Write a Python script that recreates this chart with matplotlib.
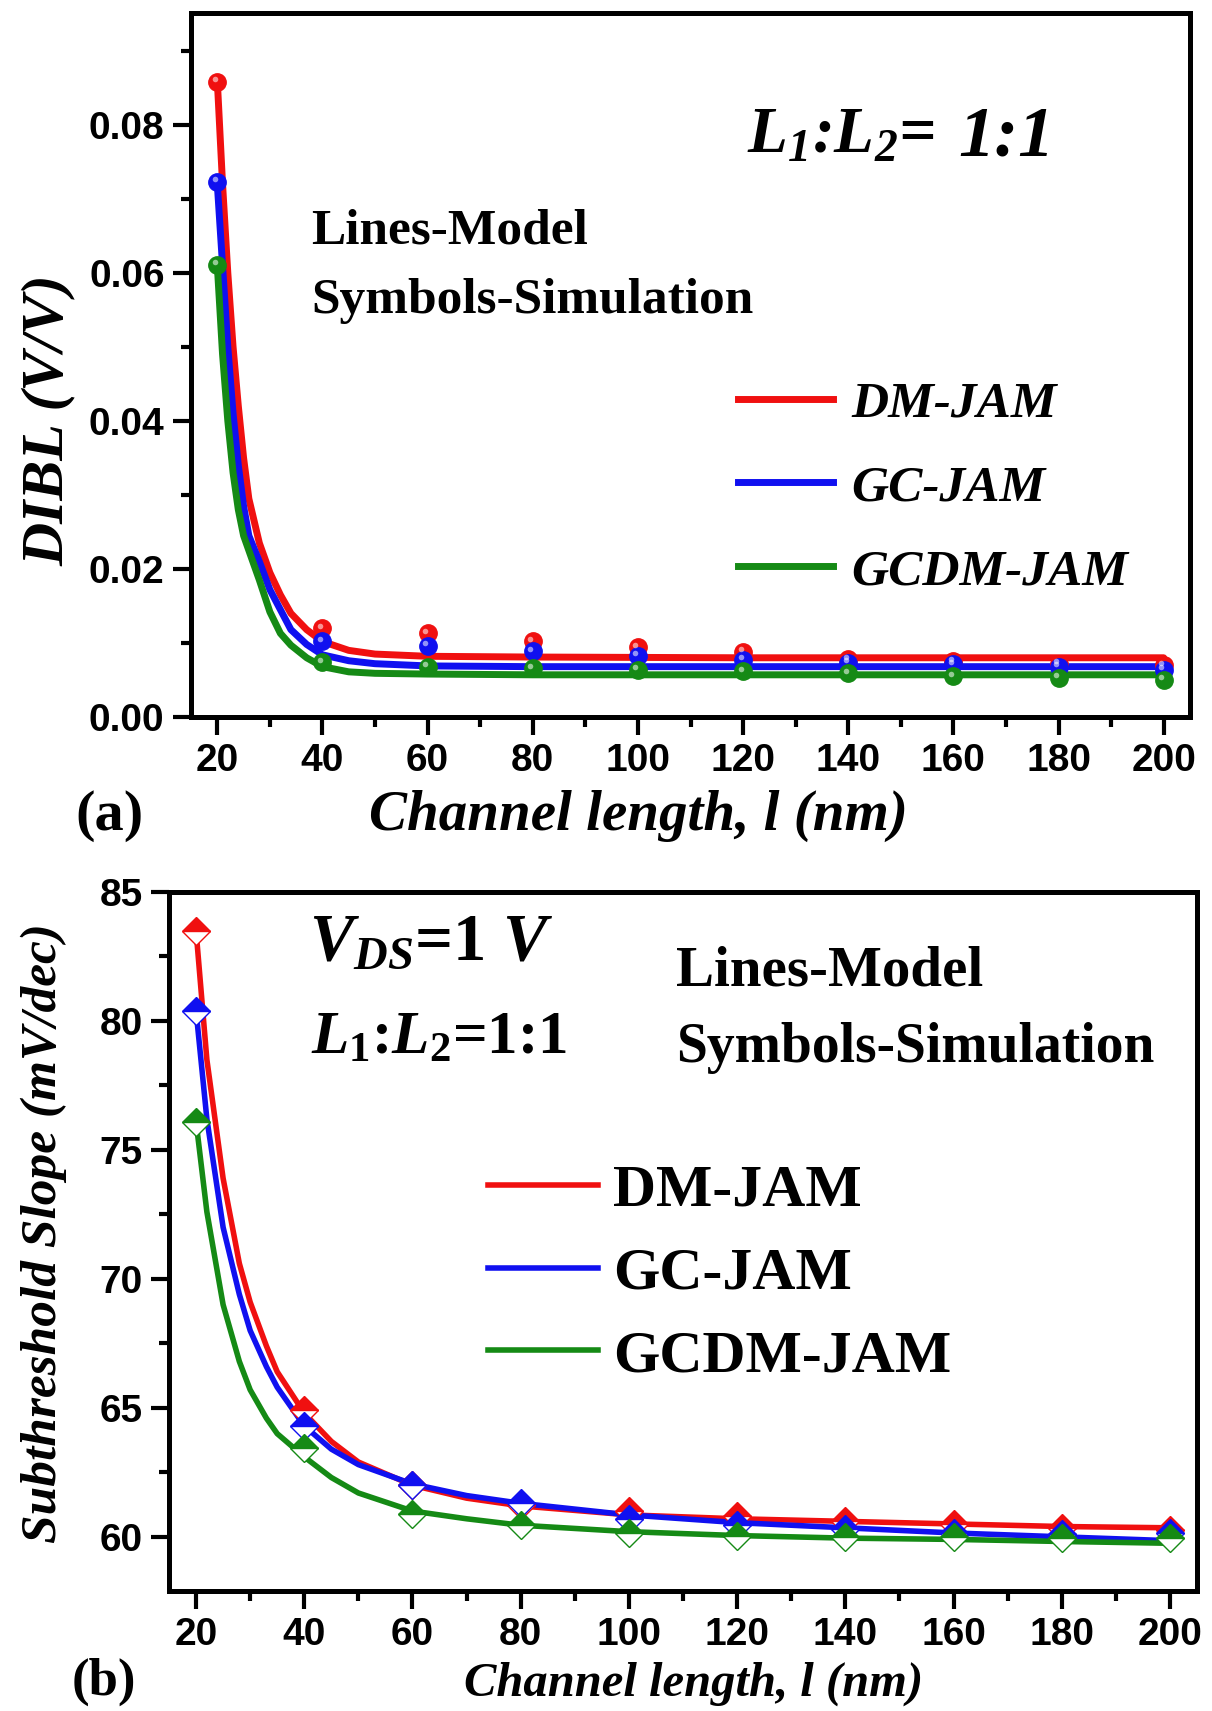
import matplotlib
matplotlib.use('Agg')
import matplotlib.pyplot as plt
from matplotlib.lines import Line2D
from matplotlib.transforms import offset_copy
from matplotlib.ticker import MultipleLocator, FormatStrFormatter
from matplotlib.font_manager import FontProperties

plt.rcParams['mathtext.fontset'] = 'custom'
plt.rcParams['mathtext.rm'] = 'Liberation Serif:bold'
plt.rcParams['mathtext.it'] = 'Liberation Serif:italic:bold'
plt.rcParams['mathtext.bf'] = 'Liberation Serif:italic:bold'

# ---- data ----
length = [20, 40, 60, 80, 100, 120, 140, 160, 180, 200]
series = ['DM-JAM', 'GC-JAM', 'GCDM-JAM']
colors = ['#f01010', '#1010f0', '#158a15']

# (a) DIBL, simulation symbols
dibl_dm = [0.0858, 0.0120, 0.0113, 0.0102, 0.0094, 0.0088, 0.0078, 0.0075, 0.0072, 0.0070]
dibl_gc = [0.0723, 0.0102, 0.0096, 0.0089, 0.0083, 0.0077, 0.0073, 0.0071, 0.0068, 0.0064]
dibl_gcdm = [0.0611, 0.0074, 0.0068, 0.0066, 0.0064, 0.0062, 0.0059, 0.0055, 0.0053, 0.0050]

# (a) DIBL, model lines
model_x = [20, 21, 22, 23, 24, 25, 26, 28, 30, 32, 34, 37, 40, 45, 50, 60, 80, 120, 200]
model_dm = [0.086, 0.072, 0.060, 0.050, 0.042, 0.035, 0.0295, 0.0235, 0.0195, 0.0165, 0.0140,
            0.0118, 0.0102, 0.0090, 0.0085, 0.0082, 0.0081, 0.0080, 0.0080]
model_gc = [0.072, 0.061, 0.050, 0.041, 0.034, 0.0285, 0.0245, 0.0210, 0.0172, 0.0145, 0.0118,
            0.0098, 0.0084, 0.0076, 0.0072, 0.0069, 0.0068, 0.0068, 0.0068]
model_gcdm = [0.061, 0.049, 0.040, 0.033, 0.028, 0.0245, 0.0225, 0.0185, 0.0142, 0.0113, 0.0097,
              0.0080, 0.0068, 0.0061, 0.0059, 0.0058, 0.0057, 0.0057, 0.0057]

# (b) subthreshold slope, simulation symbols
ss_dm = [83.5, 64.9, 62.0, 61.25, 61.0, 60.8, 60.6, 60.5, 60.35, 60.25]
ss_gc = [80.4, 64.3, 62.0, 61.3, 60.7, 60.45, 60.3, 60.15, 60.1, 60.15]
ss_gcdm = [76.1, 63.45, 60.9, 60.45, 60.15, 60.05, 60.0, 60.0, 59.95, 59.95]

# (b) subthreshold slope, model lines
ssm_x = [20, 22, 25, 28, 30, 33, 35, 40, 45, 50, 60, 70, 80, 100, 120, 140, 160, 180, 200]
ssm_dm = [83.5, 78.5, 73.9, 70.6, 69.1, 67.4, 66.4, 64.8, 63.7, 62.9, 62.0, 61.5, 61.2,
          60.85, 60.7, 60.6, 60.5, 60.4, 60.35]
ssm_gc = [80.4, 76.2, 72.0, 69.4, 68.0, 66.6, 65.8, 64.3, 63.4, 62.8, 62.05, 61.6, 61.3,
          60.85, 60.55, 60.35, 60.15, 60.0, 59.85]
ssm_gcdm = [76.1, 72.6, 69.0, 66.8, 65.7, 64.6, 64.0, 63.1, 62.3, 61.7, 61.0, 60.7, 60.45,
            60.2, 60.05, 59.95, 59.9, 59.82, 59.75]

W, H = 1212, 1711
def fx(px):
    return px / W
def fy(py):
    return 1 - py / H

fig = plt.figure(figsize=(12.12, 17.11), dpi=100)
fig.patch.set_facecolor('white')

tickfont = FontProperties(family='Liberation Sans', weight='bold', size=28)
serif = 'Liberation Serif'


def style_axes(ax, ymajor, yminor):
    for s in ax.spines.values():
        s.set_linewidth(3.6)
    ax.xaxis.set_major_locator(MultipleLocator(20))
    ax.xaxis.set_minor_locator(MultipleLocator(10))
    ax.yaxis.set_major_locator(MultipleLocator(ymajor))
    ax.yaxis.set_minor_locator(MultipleLocator(yminor))
    ax.tick_params(which='major', direction='out', length=13, width=3.0, pad=6,
                   top=False, right=False)
    ax.tick_params(which='minor', direction='out', length=7, width=3.0,
                   top=False, right=False)


def fix_ticklabels(ax):
    for lab in ax.get_xticklabels() + ax.get_yticklabels():
        lab.set_fontproperties(tickfont)


# ---------------- panel (a) ----------------
ax1 = fig.add_axes([fx(191), fy(717), fx(1190) - fx(191), fy(13) - fy(717)])
ax1.set_xlim(15, 205)
ax1.set_ylim(0, 0.0951)

models_a = [model_dm, model_gc, model_gcdm]
sims_a = [dibl_dm, dibl_gc, dibl_gcdm]
for m, c in zip(models_a, colors):
    ax1.plot(model_x, m, color=c, lw=5, solid_capstyle='round', zorder=2)
hl = offset_copy(ax1.transData, fig=fig, x=-2.5, y=2.5, units='dots')
for s, c in zip(sims_a, colors):
    ax1.plot(length, s, 'o', ms=12.5, mfc=c, mec=c, mew=1, zorder=3)
    ax1.plot(length, s, 'o', ms=4, mfc=(1, 1, 1, 0.55), mec='none', zorder=4, transform=hl)

style_axes(ax1, 0.02, 0.01)
ax1.yaxis.set_major_formatter(FormatStrFormatter('%.2f'))
fix_ticklabels(ax1)

handles = [Line2D([], [], color=c, lw=5) for c in colors]
ax1.legend(handles, series, loc='center left', bbox_to_anchor=(fx(738), fy(488)),
           bbox_transform=fig.transFigure, frameon=False, borderpad=0, borderaxespad=0,
           handlelength=1.85, handletextpad=0.35, labelspacing=0.72,
           prop=dict(family=serif, style='italic', weight='bold', size=37))

fig.text(fx(311), fy(243), 'Lines-Model', family=serif, weight='bold', size=37, va='baseline')
fig.text(fx(311), fy(313), 'Symbols-Simulation', family=serif, weight='bold', size=37, va='baseline')
fig.text(fx(747), fy(152), r'$\mathbf{L_1}$:$\mathbf{L_2}$=', family=serif, style='italic',
         weight='bold', size=47, va='baseline')
fig.text(fx(958), fy(155), '1:1', family=serif, style='italic', weight='bold', size=52, va='baseline')

fig.text(fx(638), fy(816), 'Channel length, l (nm)', family=serif, style='italic', weight='bold',
         size=41, ha='center', va='center')
fig.text(fx(49), fy(420), 'DIBL (V/V)', family=serif, style='italic', weight='bold',
         size=43, ha='center', va='center', rotation=90)
fig.text(fx(109), fy(816), '(a)', family=serif, weight='bold', size=42, ha='center', va='center')

# ---------------- panel (b) ----------------
ax2 = fig.add_axes([fx(169), fy(1591), fx(1197) - fx(169), fy(892) - fy(1591)])
ax2.set_xlim(15, 205)
ax2.set_ylim(57.9, 85)

models_b = [ssm_dm, ssm_gc, ssm_gcdm]
sims_b = [ss_dm, ss_gc, ss_gcdm]
for m, c in zip(models_b, colors):
    ax2.plot(ssm_x, m, color=c, lw=4, solid_capstyle='round', zorder=2)
for s, c in zip(sims_b, colors):
    ax2.plot(length, s, 'D', ms=14, fillstyle='top', mfc=c, markerfacecoloralt='white',
             mec=c, mew=1.0, zorder=3)

style_axes(ax2, 5, 2.5)
fix_ticklabels(ax2)

handles = [Line2D([], [], color=c, lw=4) for c in colors]
ax2.legend(handles, series, loc='center left', bbox_to_anchor=(fx(488), fy(1274)),
           bbox_transform=fig.transFigure, frameon=False, borderpad=0, borderaxespad=0,
           handlelength=1.85, handletextpad=0.25, labelspacing=0.47,
           prop=dict(family=serif, weight='bold', size=43))

fig.text(fx(676), fy(985), 'Lines-Model', family=serif, weight='bold', size=41, va='baseline')
fig.text(fx(676), fy(1062), 'Symbols-Simulation', family=serif, weight='bold', size=40, va='baseline')
fig.text(fx(309), fy(960), r'$V_{DS}$=1 $V$', family=serif, weight='bold', size=48, va='baseline')
fig.text(fx(311), fy(1054), r'$L_{1}$:$L_{2}$=1:1', family=serif, weight='bold', size=44, va='baseline')

fig.text(fx(694), fy(1684), 'Channel length, l (nm)', family=serif, style='italic', weight='bold',
         size=35, ha='center', va='center')
fig.text(fx(44), fy(1233), 'Subthreshold Slope (mV/dec)', family=serif, style='italic', weight='bold',
         size=37, ha='center', va='center', rotation=90)
fig.text(fx(104), fy(1682), '(b)', family=serif, weight='bold', size=38, ha='center', va='center')

fig.savefig('out.png', dpi=100, facecolor='white')
